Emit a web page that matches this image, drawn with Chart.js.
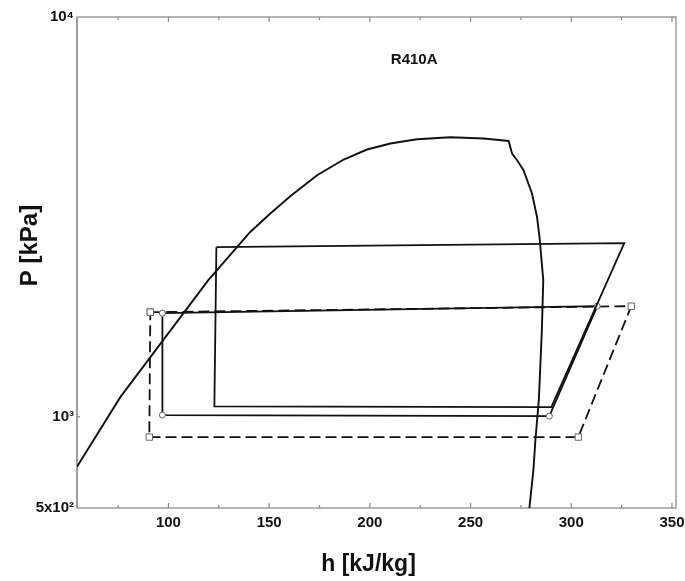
<!DOCTYPE html>
<html>
<head>
<meta charset="utf-8">
<title>R410A P-h diagram</title>
<script src="https://cdn.jsdelivr.net/npm/chart.js@4.4.1/dist/chart.umd.min.js"></script>
<style>
  html, body { margin: 0; padding: 0; background: #fff; }
  #wrap { width: 685px; height: 581px; }
</style>
</head>
<body>
<div id="wrap"><canvas id="phChart"></canvas></div>
<script>
// Saturation dome (liquid line up to the critical region, then vapour line down)
const satH = [54.6, 76.1, 119.8, 140.6, 150.6, 160.5, 173.8, 187.0, 198.6, 210.2, 223.4, 240.0,
              256.5, 268.9, 270.6, 273.1, 276.3, 280.5, 283.0, 284.3, 286.1, 285.4, 283.9, 282.2, 281.2, 279.2];
const satP = [750, 1120, 2197, 2900, 3225, 3563, 4021, 4401, 4662, 4826, 4947, 5004,
              4966, 4898, 4555, 4384, 4138, 3618, 3162, 2793, 2197, 1647, 1101, 875, 736, 591];

// Cycle A - high condensing pressure (solid, no markers)
const cycleAH = [123.8, 326.3, 290.1, 122.8, 123.8];
const cycleAP = [2657, 2718, 1057, 1062, 2657];

// Cycle B - solid with circle state points
const cycleBH = [97.0, 312.9, 289.1, 97.0, 97.0];
const cycleBP = [1817, 1891, 1004, 1010, 1817];

// Cycle C - dashed with square state points
const cycleCH = [91.0, 329.8, 303.5, 90.5, 91.0];
const cycleCP = [1827, 1891, 890, 890, 1827];

// Axis ticks
const xTickValues = [75, 100, 125, 150, 175, 200, 225, 250, 275, 300, 325, 350];
const yTickValues = [591.5, 1000, 10000];
const yTickLabels = ['5x10²', '10³', '10⁴'];

const H_MIN = 54.6, H_MAX = 352;
const P_MIN = 591.5, P_MAX = 10000;

const fluidName = 'R410A';
const fluidLabelAt = { x: 222, y: 7830 };

const toPoints = (h, p) => h.map((v, i) => ({ x: v, y: p[i] }));

const tickFont = { family: '"Liberation Sans", Arial, sans-serif', size: 15, weight: 'bold' };

// frame + inward tick marks
const framePlugin = {
  id: 'frame',
  beforeDatasetsDraw(chart) {
    const { ctx, chartArea: a, scales: { x, y } } = chart;
    ctx.save();
    ctx.strokeStyle = '#9c9c9c';
    ctx.lineWidth = 1.5;
    ctx.strokeRect(a.left, a.top, a.right - a.left, a.bottom - a.top);
    ctx.lineWidth = 2;
    ctx.beginPath();
    ctx.moveTo(a.left, a.top);
    ctx.lineTo(a.left, a.bottom);
    ctx.stroke();

    ctx.lineWidth = 1.2;
    ctx.strokeStyle = '#888';
    ctx.beginPath();
    x.ticks.forEach(t => {
      const px = x.getPixelForValue(t.value);
      const len = t.value % 50 === 0 ? 5 : 3;
      ctx.moveTo(px, a.bottom);
      ctx.lineTo(px, a.bottom - len);
      ctx.moveTo(px, a.top);
      ctx.lineTo(px, a.top + len);
    });
    const py = y.getPixelForValue(1000);
    ctx.moveTo(a.left, py);
    ctx.lineTo(a.left + 3, py);
    ctx.stroke();
    ctx.restore();
  },
  afterDraw(chart) {
    const { ctx, chartArea: a, scales: { x, y } } = chart;
    ctx.save();
    ctx.fillStyle = '#111';
    ctx.textAlign = 'center';
    ctx.textBaseline = 'middle';

    ctx.font = 'bold 15px "Liberation Sans", Arial, sans-serif';
    ctx.fillText(fluidName, x.getPixelForValue(fluidLabelAt.x), y.getPixelForValue(fluidLabelAt.y));

    ctx.font = 'bold 23px "Liberation Sans", Arial, sans-serif';
    ctx.fillText('h [kJ/kg]', (a.left + a.right) / 2 - 8, a.bottom + 57);
    ctx.font = 'bold 24px "Liberation Sans", Arial, sans-serif';
    ctx.translate(30, (a.top + a.bottom) / 2 - 17);
    ctx.rotate(-Math.PI / 2);
    ctx.fillText('P [kPa]', 0, 0);
    ctx.restore();
  }
};

const ctx = document.getElementById('phChart').getContext('2d');

const phChart = new Chart(ctx, {
  type: 'scatter',
  data: {
    datasets: [
      {
        label: 'Saturation',
        data: toPoints(satH, satP),
        showLine: true,
        borderColor: '#111',
        borderWidth: 1.9,
        pointRadius: 0,
        tension: 0
      },
      {
        label: 'Cycle A',
        data: toPoints(cycleAH, cycleAP),
        showLine: true,
        borderColor: '#111',
        borderWidth: 1.8,
        pointRadius: 0
      },
      {
        label: 'Cycle B',
        data: toPoints(cycleBH, cycleBP),
        showLine: true,
        borderColor: '#111',
        borderWidth: 1.8,
        pointStyle: 'circle',
        pointRadius: 3,
        pointBackgroundColor: '#fff',
        pointBorderColor: '#666',
        pointBorderWidth: 1
      },
      {
        label: 'Cycle C',
        data: toPoints(cycleCH, cycleCP),
        showLine: true,
        borderColor: '#111',
        borderWidth: 1.8,
        borderDash: [11, 5],
        pointStyle: 'rect',
        pointRadius: 4.5,
        pointBackgroundColor: '#fff',
        pointBorderColor: '#666',
        pointBorderWidth: 1
      }
    ]
  },
  options: {
    responsive: true,
    maintainAspectRatio: false,
    animation: false,
    layout: { padding: { top: 17, right: 9, left: 0, bottom: 0 } },
    plugins: {
      legend: { display: false },
      tooltip: { enabled: false }
    },
    scales: {
      x: {
        type: 'linear',
        min: H_MIN,
        max: H_MAX,
        grid: { display: false, drawTicks: false },
        border: { display: false },
        afterBuildTicks: s => { s.ticks = xTickValues.map(v => ({ value: v })); },
        afterFit: s => { s.height = 73; s.paddingLeft = 0; s.paddingRight = 0; },
        ticks: {
          autoSkip: false,
          maxRotation: 0,
          padding: 6,
          color: '#111',
          font: tickFont,
          callback: v => (v % 50 === 0 ? String(v) : '')
        }
      },
      y: {
        type: 'logarithmic',
        min: P_MIN,
        max: P_MAX,
        grid: { display: false, drawTicks: false },
        border: { display: false },
        afterBuildTicks: s => { s.ticks = yTickValues.map(v => ({ value: v })); },
        afterFit: s => { s.width = 77; s.paddingTop = 0; s.paddingBottom = 0; },
        ticks: {
          autoSkip: false,
          padding: 3,
          color: '#111',
          font: tickFont,
          callback: (v, i) => yTickLabels[i]
        }
      }
    }
  },
  plugins: [framePlugin]
});
</script>
</body>
</html>
